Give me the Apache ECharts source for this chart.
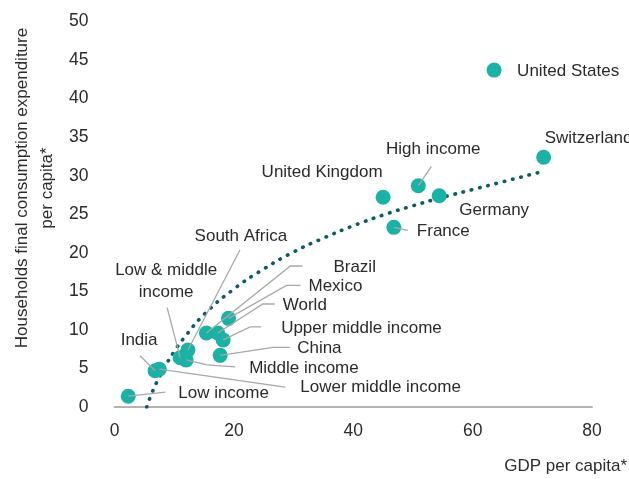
<!DOCTYPE html>
<html>
<head>
<meta charset="utf-8">
<script src="https://cdn.jsdelivr.net/npm/echarts@6/dist/echarts.min.js"></script>
<style>
html, body { margin: 0; padding: 0; background: #fff; }
#chart { width: 629px; height: 479px; }
</style>
</head>
<body>
<div id="chart"></div>
<script>
// countries / groups, GDP per capita vs households consumption per capita
const names = ['Low income', 'India', 'Lower middle income', 'Low & middle income', 'Middle income',
    'South Africa', 'Brazil', 'World', 'Upper middle income', 'Mexico', 'China',
    'United Kingdom', 'France', 'High income', 'Germany', 'Switzerland', 'United States']
const gdp = [2.3, 6.8, 7.5, 11.0, 12.0, 12.3, 15.4, 17.3, 18.2, 19.1, 17.7, 45.0, 46.8, 50.9, 54.4, 71.9, 63.6]
const consumption = [1.4, 4.7, 4.9, 6.4, 6.1, 7.4, 9.6, 9.6, 8.7, 11.5, 6.7, 27.2, 23.3, 28.7, 27.4, 32.4, 43.7]

// dotted trend line
const trendGdp = [5.4, 6, 7, 8, 10, 12, 15, 20, 25, 30, 35, 40, 45, 50, 55, 60, 65, 71.5]
const trendConsumption = [0, 1.3, 3.1, 4.6, 7.2, 9.3, 12.0, 15.3, 17.9, 20.1, 21.9, 23.5, 24.9, 26.1, 27.2, 28.2, 29.2, 30.5]

const xTicks = [0, 20, 40, 60, 80]
const yTicks = [0, 5, 10, 15, 20, 25, 30, 35, 40, 45, 50]

// where each label sits, in px from the point centre (leader line points too)
const labelPos = {
    'Low income': { at: [50, -3], align: 'left', line: [[37, -4]] },
    'India': { at: [-16, -30], align: 'center', line: [[-15, -15]] },
    'Lower middle income': { at: [141, 18], align: 'left', line: [[126, 18]] },
    'Low & middle income': { text: 'Low & middle\nincome', at: [-14, -76], align: 'center', line: [[-13, -50]] },
    'Middle income': { at: [63, 8], align: 'left', line: [[21, 5], [49, 7]] },
    'South Africa': { at: [53, -114], align: 'center', line: [[52, -100]] },
    'Brazil': { at: [127, -66], align: 'left', line: [[84, -67], [96, -67]] },
    'World': { at: [65, -28], align: 'left', line: [[45, -29], [57, -29]] },
    'Upper middle income': { at: [58, -12], align: 'left', line: [[27, -13], [38, -13]] },
    'Mexico': { at: [80, -32], align: 'left', line: [[58, -33], [72, -33]] },
    'China': { at: [77, -7], align: 'left', line: [[53, -8], [70, -8]] },
    'United Kingdom': { at: [-61, -25], align: 'center' },
    'France': { at: [23, 4], align: 'left', line: [[14, 3]] },
    'High income': { at: [15, -36], align: 'center', line: [[13, -19]] },
    'Germany': { at: [20, 15], align: 'left' },
    'Switzerland': { at: [1, -19], align: 'left' },
    'United States': { at: [23, 1], align: 'left' }
}

const font = '"Liberation Sans", Arial, sans-serif'
const chart = echarts.init(document.getElementById('chart'))

const points = names.map((n, i) => [gdp[i], consumption[i]])

const option = {
    animation: false,
    grid: { left: 114.5, right: 37, top: 21.5, bottom: 72, outerBoundsMode: 'none' },
    xAxis: {
        type: 'value',
        min: xTicks[0],
        max: xTicks[xTicks.length - 1],
        interval: 20,
        axisLine: { show: true, lineStyle: { color: '#b3b3b3', width: 2 } },
        axisTick: { show: false },
        splitLine: { show: false },
        axisLabel: { color: '#2b2b2b', fontSize: 17.5, fontFamily: font, margin: 15 }
    },
    yAxis: {
        type: 'value',
        min: yTicks[0],
        max: yTicks[yTicks.length - 1],
        interval: 5,
        axisLine: { show: false },
        axisTick: { show: false },
        splitLine: { show: false },
        axisLabel: { color: '#2b2b2b', fontSize: 17.5, fontFamily: font, margin: 26 }
    },
    graphic: [
        {
            type: 'text',
            x: 35, y: 188,
            rotation: Math.PI / 2,
            style: {
                text: 'Households final consumption expenditure\nper capita*',
                align: 'center', verticalAlign: 'middle',
                fill: '#2b2b2b', font: '17px ' + font, lineHeight: 25
            }
        },
        {
            type: 'text',
            x: 627, y: 466,
            style: {
                text: 'GDP per capita*',
                align: 'right', verticalAlign: 'middle',
                fill: '#2b2b2b', font: '17px ' + font
            }
        }
    ],
    series: [
        {
            type: 'line',
            data: trendGdp.map((x, i) => [x, trendConsumption[i]]),
            smooth: true,
            showSymbol: false,
            lineStyle: { color: '#0b5c63', width: 3.6, type: [0.5, 8], cap: 'round' },
            z: 2
        },
        {
            type: 'scatter',
            data: points,
            symbolSize: 15,
            itemStyle: { color: '#19b2a5', opacity: 1 },
            z: 3
        },
        {
            type: 'custom',
            data: points,
            clip: false,
            z: 4,
            renderItem: function (params, api) {
                const p = api.coord([api.value(0), api.value(1)])
                const lp = labelPos[names[params.dataIndex]]
                const children = []
                if (lp.line) {
                    const pts = [[p[0], p[1]]].concat(lp.line.map(d => [p[0] + d[0], p[1] + d[1]]))
                    children.push({
                        type: 'polyline',
                        shape: { points: pts },
                        style: { stroke: '#a8a8a8', lineWidth: 1.3, fill: null }
                    })
                }
                children.push({
                    type: 'text',
                    style: {
                        x: p[0] + lp.at[0],
                        y: p[1] + lp.at[1],
                        text: lp.text || names[params.dataIndex],
                        align: lp.align,
                        verticalAlign: 'middle',
                        fill: '#2b2b2b',
                        font: '17px ' + font,
                        lineHeight: 22
                    }
                })
                return { type: 'group', children: children }
            }
        }
    ]
}

chart.setOption(option)
</script>
</body>
</html>
